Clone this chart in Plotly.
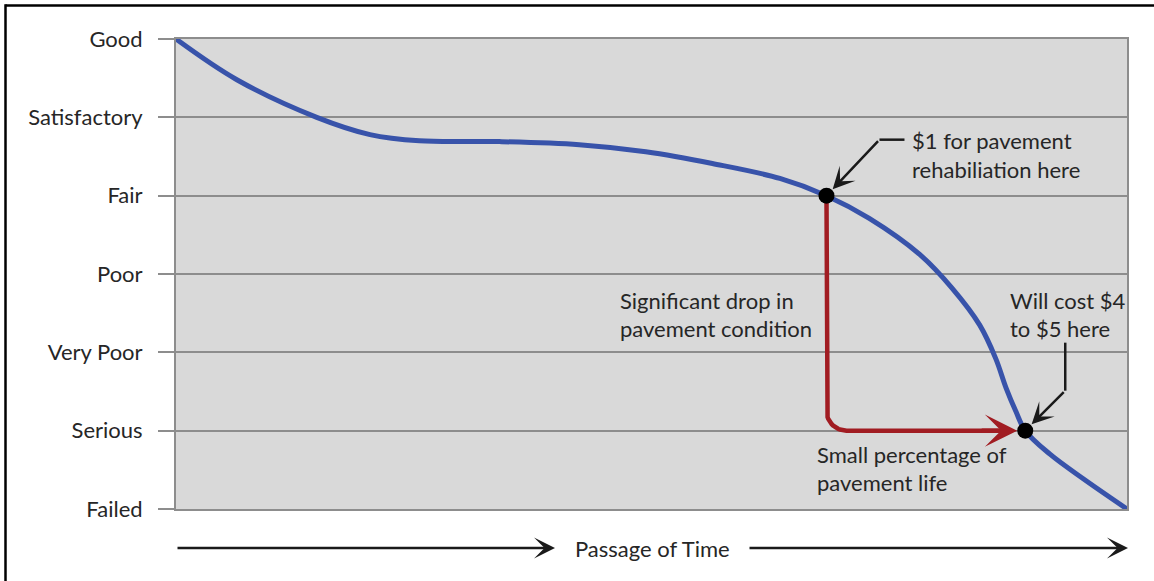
import numpy as np
import plotly.graph_objects as go

# Pavement condition scale (bottom to top)
conditions = ["Failed", "Serious", "Very Poor", "Poor", "Fair", "Satisfactory", "Good"]

# Deterioration curve: time (0-100 % of life) vs condition index (0 = Failed, 6 = Good)
time_pts = [0, 6.4, 14.8, 20.4, 25.6, 34.0, 42.4, 49.4, 56.4, 63.5,
            68.4, 72.9, 78.2, 81.6, 84.5, 86.2, 87.3, 88.3, 89.3, 91.9, 95.4, 100]
cond_pts = [6.0, 5.48, 5.0, 4.78, 4.70, 4.69, 4.65, 4.56, 4.41, 4.22,
            4.0, 3.71, 3.25, 2.82, 2.35, 1.92, 1.54, 1.25, 1.0, 0.70, 0.386, 0.0]

# Key points on the curve
rehab_time, rehab_cond = 68.4, 4.0      # $1 rehabilitation point
costly_time, costly_cond = 89.3, 1.0    # $4-$5 point

# Figure geometry
FIG_W, FIG_H = 1154, 581
M_L, M_R, M_T, M_B = 176, 27, 39, 72
PLOT_W = FIG_W - M_L - M_R
PLOT_H = FIG_H - M_T - M_B
X_RANGE = (0, 100)
Y_RANGE = (0, 6)
PX_PER_X = PLOT_W / (X_RANGE[1] - X_RANGE[0])
PX_PER_Y = PLOT_H / (Y_RANGE[1] - Y_RANGE[0])


def dx(px):
    """Figure pixel column -> x data value."""
    return (px - M_L) / PX_PER_X


def dy(py):
    """Figure pixel row -> y data value."""
    return (M_T + PLOT_H - py) / PX_PER_Y


def px_paper(px):
    return (px - M_L) / PLOT_W


def py_paper(py):
    return (M_T + PLOT_H - py) / PLOT_H


BLUE = "#3853aa"
RED = "#a11c22"
GRID = "#8d8d8d"
TEXT = "#262626"
INK = "#1a1a1a"
FONT = "Lato"
FONT_SIZE = 22

fig = go.Figure()

# Condition-over-time curve
fig.add_trace(go.Scatter(
    x=time_pts, y=cond_pts, mode="lines",
    line=dict(color=BLUE, width=5, shape="spline", smoothing=1.0),
    hoverinfo="skip", showlegend=False, cliponaxis=False,
))

# Red path: vertical drop then rounded corner to horizontal run
r_px = 20
rx, ry = r_px / PX_PER_X, r_px / PX_PER_Y
theta = np.linspace(np.pi, 1.5 * np.pi, 20)
arc_x = (rehab_time + rx) + rx * np.cos(theta)
arc_y = (costly_cond + ry) + ry * np.sin(theta)
end_x = costly_time - 26 / PX_PER_X
path_x = [rehab_time] + list(arc_x) + [end_x]
path_y = [rehab_cond] + list(arc_y) + [costly_cond]
fig.add_trace(go.Scatter(
    x=path_x, y=path_y, mode="lines",
    line=dict(color=RED, width=4.5),
    hoverinfo="skip", showlegend=False,
))

# Markers at the two cost points
fig.add_trace(go.Scatter(
    x=[rehab_time, costly_time], y=[rehab_cond, costly_cond], mode="markers",
    marker=dict(color="black", size=16),
    hoverinfo="skip", showlegend=False,
))

annotations = []

# Red arrowhead
annotations.append(dict(
    x=costly_time, y=costly_cond, xref="x", yref="y",
    ax=-45, ay=0, axref="pixel", ayref="pixel",
    showarrow=True, arrowhead=3, arrowsize=1.2, arrowwidth=4.5,
    arrowcolor=RED, standoff=8, text="",
))

# Black pointer to the $1 point
annotations.append(dict(
    x=rehab_time, y=rehab_cond, xref="x", yref="y",
    ax=53, ay=-56, showarrow=True, arrowhead=3, arrowsize=1.45,
    arrowwidth=2.5, arrowcolor=INK, standoff=9, text="",
))

# Black pointer to the $4-$5 point
annotations.append(dict(
    x=costly_time, y=costly_cond, xref="x", yref="y",
    ax=40, ay=-40, showarrow=True, arrowhead=3, arrowsize=1.45,
    arrowwidth=2.5, arrowcolor=INK, standoff=9, text="",
))

# Text labels (left-aligned, one entry per line)
labels = [
    ("$1 for pavement", 910, 140),
    ("rehabiliation here", 910, 169),
    ("Significant drop in", 618, 300),
    ("pavement condition", 618, 328),
    ("Will cost $4", 1008, 300),
    ("to $5 here", 1008, 328),
    ("Small percentage of", 815, 454),
    ("pavement life", 815, 482),
]
for txt, lx, ly in labels:
    annotations.append(dict(
        x=dx(lx), y=dy(ly), xref="x", yref="y", text=txt, showarrow=False,
        xanchor="left", yanchor="middle",
        font=dict(family=FONT, size=FONT_SIZE, color=TEXT),
    ))

# Passage-of-time axis caption with arrows
TIME_Y = 548
annotations.append(dict(
    x=px_paper(652), y=py_paper(TIME_Y), xref="paper", yref="paper",
    text="Passage of Time", showarrow=False, xanchor="center", yanchor="middle",
    font=dict(family=FONT, size=FONT_SIZE, color=TEXT),
))
for tail, tip in [(176, 555), (748, 1128)]:
    annotations.append(dict(
        x=px_paper(tip), y=py_paper(TIME_Y), xref="x domain", yref="y domain",
        ax=px_paper(tail), ay=py_paper(TIME_Y), axref="x domain", ayref="y domain",
        showarrow=True, arrowhead=3, arrowsize=1.4, arrowwidth=2.5,
        arrowcolor=INK, text="",
    ))

shapes = [
    # Leader segments attached to the pointer arrows
    dict(type="line", xref="x", yref="y",
         xsizemode="pixel", ysizemode="pixel",
         xanchor=rehab_time, yanchor=rehab_cond,
         x0=53, x1=78, y0=56, y1=56,
         line=dict(color=INK, width=2.5)),
    dict(type="line", xref="x", yref="y",
         xsizemode="pixel", ysizemode="pixel",
         xanchor=costly_time, yanchor=costly_cond,
         x0=40, x1=40, y0=40, y1=88,
         line=dict(color=INK, width=2.5)),
    # Frame lines along the top and left edges
    dict(type="line", xref="paper", yref="paper",
         x0=px_paper(5.5), x1=px_paper(FIG_W + 10), y0=py_paper(5.5), y1=py_paper(5.5),
         line=dict(color="black", width=2.5), layer="above"),
    dict(type="line", xref="paper", yref="paper",
         x0=px_paper(5.5), x1=px_paper(5.5), y0=py_paper(4.3), y1=py_paper(FIG_H + 10),
         line=dict(color="black", width=2.5), layer="above"),
]

fig.update_layout(
    width=FIG_W, height=FIG_H,
    margin=dict(l=M_L, r=M_R, t=M_T, b=M_B, pad=0),
    paper_bgcolor="white", plot_bgcolor="#d9d9d9",
    showlegend=False,
    annotations=annotations,
    shapes=shapes,
    xaxis=dict(range=list(X_RANGE), showgrid=False, zeroline=False,
               showticklabels=False, ticks="",
               showline=True, linecolor=GRID, linewidth=2, mirror=True),
    yaxis=dict(range=list(Y_RANGE), tickmode="array",
               tickvals=list(range(len(conditions))), ticktext=conditions,
               showgrid=True, gridcolor=GRID, gridwidth=2, zeroline=False,
               ticks="outside", ticklen=16, tickwidth=2, tickcolor=GRID,
               ticklabelstandoff=11,
               tickfont=dict(family=FONT, size=FONT_SIZE, color=TEXT),
               showline=True, linecolor=GRID, linewidth=2, mirror=True),
)

fig.write_html("out.html")
